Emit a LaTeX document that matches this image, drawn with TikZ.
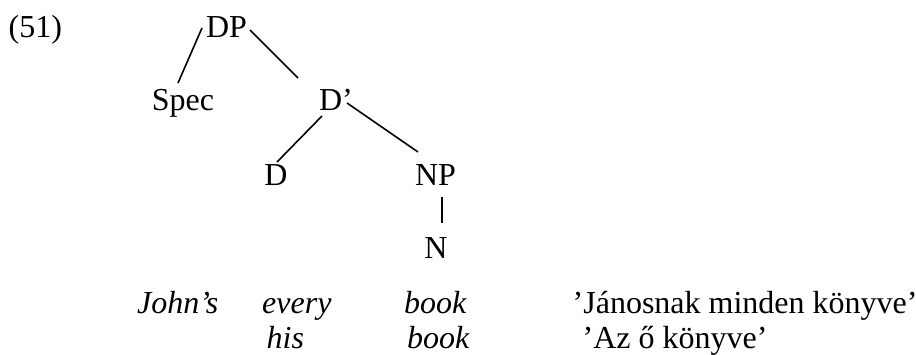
\documentclass[tikz,border=0pt]{standalone}
\usepackage{fontspec}
\setmainfont{Liberation Serif}
\begin{document}
\begin{tikzpicture}[x=1pt,y=-1pt,
  every node/.style={inner sep=0pt, font=\fontsize{32}{38}\selectfont},
  cat/.style={anchor=base},
  gloss/.style={anchor=base west},
  eg/.style={anchor=base west, font=\fontsize{32}{38}\selectfont\itshape},
  branch/.style={line width=1.6pt, line cap=butt}]
  \useasboundingbox (0,0) rectangle (916,354);

  % example number
  \node[anchor=base west] (num) at (8.5,37) {(51)};

  % tree nodes
  \node[cat] (dp)   at (226.5,37)  {DP};
  \node[cat] (spec) at (183,110)   {Spec};
  \node[cat] (dbar) at (336,110)   {D’};
  \node[cat] (d)    at (276,185)   {D};
  \node[cat] (np)   at (435.5,185) {NP};
  \node[cat] (n)    at (436,258)   {N};

  % branches
  \draw[branch] ([shift={(-24.5,-9)}]dp.base)  -- ([shift={(-5,-27)}]spec.base);
  \draw[branch] ([shift={(23.5,-7)}]dp.base)   -- ([shift={(-38,-32)}]dbar.base);
  \draw[branch] ([shift={(-14,6)}]dbar.base)   -- ([shift={(1,-23)}]d.base);
  \draw[branch] ([shift={(11,-7)}]dbar.base)   -- ([shift={(-17.5,-33)}]np.base);
  \draw[branch] ([shift={(6.5,12)}]np.base)    -- ([shift={(6,-35)}]n.base);

  % examples and glosses
  \node[eg] (john)   at (137,313)   {John’s};
  \node[eg] (every)  at (262,313)   {every};
  \node[eg] (book1)  at (404,313)   {book};
  \node[gloss] (gl1) at (572.5,313) {’Jánosnak minden könyve’};
  \node[eg] (his)    at (266.5,348) {his};
  \node[eg] (book2)  at (407,348)   {book};
  \node[gloss] (gl2) at (582.5,348) {’Az ő könyve’};
\end{tikzpicture}
\end{document}
